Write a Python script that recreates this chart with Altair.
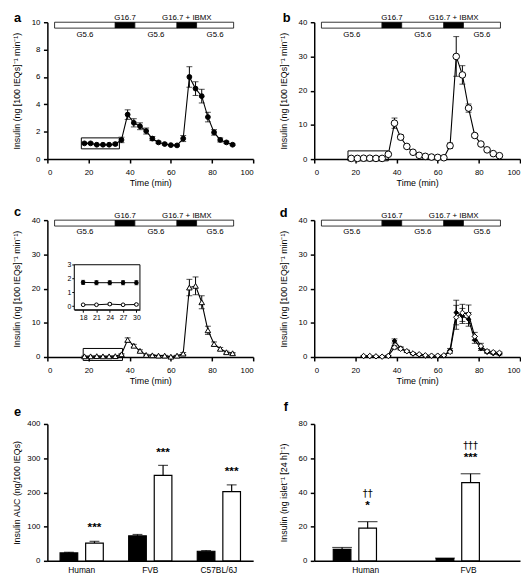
import altair as alt
import pandas as pd

FONT = "Liberation Sans"

# ---------------- time-course data (time in min) ----------------
time_abc = [18, 21, 24, 27, 30, 33, 36, 39, 42, 45, 48, 51, 54, 57, 60, 63, 66, 69, 72, 75, 78, 81, 84, 87, 90]
a_mean = [1.15, 1.15, 1.05, 1.05, 1.05, 1.10, 1.40, 3.25, 2.65, 2.40, 2.05, 1.50, 1.22, 1.10, 1.02, 1.00, 1.50, 6.00, 5.15, 4.60, 3.07, 1.95, 1.40, 1.22, 1.05]
a_sem = [0.05, 0.05, 0.04, 0.04, 0.04, 0.08, 0.20, 0.35, 0.30, 0.25, 0.22, 0.15, 0.08, 0.06, 0.05, 0.05, 0.22, 0.75, 0.50, 0.50, 0.35, 0.20, 0.15, 0.08, 0.06]
b_mean = [0.2, 0.2, 0.25, 0.25, 0.2, 0.2, 1.4, 10.5, 6.4, 3.7, 2.0, 1.1, 0.8, 0.6, 0.5, 0.4, 3.9, 30.0, 24.6, 14.9, 6.9, 4.4, 2.7, 1.6, 1.0]
b_sem = [0.1, 0.1, 0.1, 0.1, 0.1, 0.1, 0.3, 1.5, 0.7, 0.5, 0.3, 0.2, 0.15, 0.1, 0.1, 0.1, 0.8, 5.8, 2.7, 1.2, 0.5, 0.4, 0.3, 0.2, 0.2]
c_mean = [0.2, 0.2, 0.25, 0.2, 0.2, 0.25, 0.8, 5.0, 3.3, 1.8, 0.6, 0.5, 0.4, 0.4, 0.1, 0.4, 1.0, 20.3, 20.8, 16.0, 7.8, 3.8, 2.4, 1.4, 1.1]
c_sem = [0.1, 0.1, 0.1, 0.1, 0.1, 0.1, 0.2, 0.6, 0.4, 0.3, 0.2, 0.2, 0.1, 0.1, 0.1, 0.1, 0.3, 2.4, 2.6, 1.9, 1.2, 0.6, 0.4, 0.3, 0.2]
time_d = [24, 27, 30, 33, 36, 39, 42, 45, 48, 51, 54, 57, 60, 63, 66, 69, 72, 75, 78, 81, 84, 87, 90]
d_open_mean = [0.3, 0.3, 0.2, 0.1, 0.3, 2.8, 2.4, 1.7, 1.05, 0.8, 0.5, 0.4, 0.4, 0.5, 1.5, 11.6, 12.9, 12.5, 6.0, 3.2, 1.7, 1.4, 1.25]
d_open_sem = [0.1, 0.1, 0.1, 0.1, 0.1, 0.5, 0.4, 0.3, 0.2, 0.1, 0.1, 0.1, 0.1, 0.1, 0.4, 3.5, 2.5, 2.7, 1.2, 0.8, 0.4, 0.3, 0.2]
d_fill_mean = [0.2, 0.2, 0.15, 0.1, 0.4, 4.7, 2.6, 1.6, 0.9, 0.6, 0.4, 0.3, 0.3, 0.4, 2.0, 13.0, 12.0, 11.0, 5.0, 2.5, 1.4, 1.0, 0.8]
d_fill_sem = [0.1, 0.1, 0.1, 0.1, 0.1, 0.6, 0.4, 0.3, 0.2, 0.1, 0.1, 0.1, 0.1, 0.1, 0.5, 3.6, 2.2, 2.0, 1.0, 0.6, 0.3, 0.2, 0.2]

# inset of panel c (basal period, 18-30 min)
inset_time = [18, 21, 24, 27, 30]
inset_fill_mean = [1.72, 1.70, 1.70, 1.70, 1.70]
inset_fill_sem = [0.15, 0.15, 0.15, 0.15, 0.15]
inset_open_mean = [0.10, 0.10, 0.15, 0.10, 0.12]
inset_open_sem = [0.03, 0.03, 0.08, 0.03, 0.06]
inset_x_dom = [16.0, 30.8]
inset_y_dom = [-0.26, 3.0]

# perifusion protocol bar
cond_start = [3.5, 33.0, 42.5, 63.0, 72.5]
cond_end = [33.0, 42.5, 63.0, 72.5, 90.5]
cond_label = ["G5.6", "G16.7", "G5.6", "G16.7 + IBMX", "G5.6"]
cond_fill = ["white", "black", "white", "black", "white"]
cond_side = ["below", "above", "below", "above", "below"]

# highlighted basal boxes (panels a, b, c)
box_t0 = [16.5, 16.4, 17.4]
box_t1 = [35.0, 36.0, 36.5]
box_y0 = [0.75, -0.5, -1.0]
box_y1 = [1.55, 2.4, 2.5]

# ---------------- bar data ----------------
e_groups = ["Human", "FVB", "C57BL/6J"]
e_black = [23, 73, 28]
e_black_sem = [2, 4, 2]
e_white = [52, 250, 202]
e_white_sem = [5, 29, 20]
e_sig = ["***", "***", "***"]

f_groups = ["Human", "FVB"]
f_black = [6.7, 1.3]
f_black_sem = [1.1, 0.3]
f_white = [19.1, 45.7]
f_white_sem = [3.8, 5.2]
f_sig = ["*", "***"]
f_dag = ["\u2020\u2020", "\u2020\u2020\u2020"]

YT_TC = "Insulin (ng [100 IEQs]\u207b\u00b9 min\u207b\u00b9)"
W, H, H3 = 209, 139, 145


def make_X():
    def X(f):
        return alt.X(f"{f}:Q", scale=alt.Scale(domain=[0, 100], nice=False, zero=False),
                     axis=alt.Axis(values=[0, 20, 40, 60, 80, 100], title="Time (min)",
                                   labelPadding=6, titlePadding=2))
    return X


def make_Y(ymax, yvals):
    def Y(f):
        return alt.Y(f"{f}:Q", scale=alt.Scale(domain=[0, ymax], nice=False, zero=False),
                     axis=alt.Axis(values=yvals, title=YT_TC, labelPadding=3.5, titlePadding=10))
    return Y


def ts_df(t, m, s):
    return pd.DataFrame({"t": t, "m": m,
                         "lo": [a - b for a, b in zip(m, s)],
                         "hi": [a + b for a, b in zip(m, s)]})


def series(t, mean, sem, X, Y, shape, fill, size, cap=6, lw=1.1):
    base = alt.Chart(ts_df(t, mean, sem))
    line = base.mark_line(color="black", strokeWidth=lw).encode(x=X("t"), y=Y("m"))
    rule = base.mark_rule(color="black", strokeWidth=1).encode(x=X("t"), y=Y("lo"), y2="hi")
    cap_hi = base.mark_tick(orient="horizontal", color="black", size=cap, thickness=1).encode(x=X("t"), y=Y("hi"))
    cap_lo = base.mark_tick(orient="horizontal", color="black", size=cap, thickness=1).encode(x=X("t"), y=Y("lo"))
    pts = base.mark_point(shape=shape, size=size, filled=True, fill=fill, stroke="black",
                          strokeWidth=1, opacity=1).encode(x=X("t"), y=Y("m"))
    return [line, rule, cap_hi, cap_lo, pts]


cond_df = pd.DataFrame({"start": cond_start, "end": cond_end, "label": cond_label,
                        "fill": cond_fill, "side": cond_side})


def protocol(X):
    base = alt.Chart(cond_df)
    bar = base.mark_rect(stroke="black", strokeWidth=0.8).encode(
        x=X("start"), x2="end", y=alt.value(0), y2=alt.value(6),
        fill=alt.Fill("fill:N", scale=None))
    above = base.transform_filter("datum.side == 'above'").transform_calculate(
        mid="(datum.start + datum.end) / 2").mark_text(
        font=FONT, fontSize=8, baseline="alphabetic").encode(
        x=X("mid"), y=alt.value(-2), text="label:N")
    below = base.transform_filter("datum.side == 'below'").transform_calculate(
        mid="(datum.start + datum.end) / 2").mark_text(
        font=FONT, fontSize=8, baseline="alphabetic").encode(
        x=X("mid"), y=alt.value(14.5), text="label:N")
    return [bar, above, below]


def box(i, X, Y):
    df = pd.DataFrame({"t0": [box_t0[i]], "t1": [box_t1[i]], "y0": [box_y0[i]], "y1": [box_y1[i]]})
    return alt.Chart(df).mark_rect(fill="white", fillOpacity=0, stroke="black", strokeWidth=1).encode(
        x=X("t0"), x2="t1", y=Y("y0"), y2="y1")


def panel_label(txt, px, py):
    return alt.Chart(pd.DataFrame({"p": [txt]})).mark_text(
        font=FONT, fontSize=13, fontWeight="bold", align="left", baseline="alphabetic",
        color="black").encode(text="p:N", x=alt.value(px), y=alt.value(py))


# ---------------- panel a ----------------
Xa, Ya = make_X(), make_Y(10, [0, 2, 4, 6, 8, 10])
pa = alt.layer(*protocol(Xa), box(0, Xa, Ya),
               *series(time_abc, a_mean, a_sem, Xa, Ya, "circle", "black", 24),
               panel_label("a", -34, 0)).properties(width=W, height=H)

# ---------------- panel b ----------------
Xb, Yb = make_X(), make_Y(40, [0, 10, 20, 30, 40])
pb = alt.layer(*protocol(Xb), box(1, Xb, Yb),
               *series(time_abc, b_mean, b_sem, Xb, Yb, "circle", "white", 45),
               panel_label("b", -32, 0)).properties(width=W, height=H)

# ---------------- panel c (with inset) ----------------
Xc, Yc = make_X(), make_Y(40, [0, 10, 20, 30, 40])
main_c = alt.layer(*protocol(Xc), box(2, Xc, Yc),
                   *series(time_abc, c_mean, c_sem, Xc, Yc, "triangle-up", "white", 32),
                   panel_label("c", -34, -4))


def IX(f):
    return alt.X(f"{f}:Q", scale=alt.Scale(domain=inset_x_dom, range=[27.3, 94], nice=False, zero=False),
                 axis=alt.Axis(orient="bottom", offset=-48, values=inset_time, title=None,
                               tickSize=2.5, tickWidth=1, domainWidth=1, labelFontSize=7, labelPadding=1))


def IY(f):
    return alt.Y(f"{f}:Q", scale=alt.Scale(domain=inset_y_dom, range=[91, 45.3], nice=False, zero=False),
                 axis=alt.Axis(orient="left", offset=-27.3, values=[0, 1, 2, 3], title=None,
                               tickSize=2.5, tickWidth=1, domainWidth=1, labelFontSize=7, labelPadding=1))


inset_frame = alt.Chart(pd.DataFrame({"x0": [inset_x_dom[0]], "x1": [inset_x_dom[1]],
                                      "y0": [inset_y_dom[0]], "y1": [inset_y_dom[1]]})).mark_rect(
    fill="white", stroke="black", strokeWidth=1).encode(x=IX("x0"), x2="x1", y=IY("y0"), y2="y1")
inset = alt.layer(inset_frame,
                  *series(inset_time, inset_fill_mean, inset_fill_sem, IX, IY, "circle", "black", 14, cap=4, lw=1),
                  *series(inset_time, inset_open_mean, inset_open_sem, IX, IY, "circle", "white", 14, cap=4, lw=1))
pc = alt.layer(main_c, inset).resolve_scale(x="independent", y="independent").properties(width=W, height=H)

# ---------------- panel d ----------------
Xd, Yd = make_X(), make_Y(40, [0, 10, 20, 30, 40])
pd_ = alt.layer(*protocol(Xd),
                *series(time_d, d_fill_mean, d_fill_sem, Xd, Yd, "diamond", "black", 22),
                *series(time_d, d_open_mean, d_open_sem, Xd, Yd, "diamond", "white", 30),
                panel_label("d", -35, -3)).properties(width=W, height=H)


# ---------------- bar panels ----------------
def bar_panel(groups, black, black_sem, white, white_sem, ymax, yvals, ytitle, cap, title_pad, lab, lx, ly,
              sig, sig_dy, dag=None, dag_dy=0):
    rows = []
    for g, bv, bs, wv, ws in zip(groups, black, black_sem, white, white_sem):
        rows.append({"group": g, "cond": "black", "val": bv, "hi": bv + bs})
        rows.append({"group": g, "cond": "white", "val": wv, "hi": wv + ws})
    df = pd.DataFrame(rows)
    X = alt.X("group:N", sort=groups, scale=alt.Scale(paddingInner=0.37, paddingOuter=0.185),
              axis=alt.Axis(title=None, labelAngle=0, ticks=False, tickSize=0, labelPadding=5,
                            labelFontSize=8.5))
    XO = alt.XOffset("cond:N", sort=["black", "white"], scale=alt.Scale(paddingInner=0.31))

    def Y(f):
        return alt.Y(f"{f}:Q", scale=alt.Scale(domain=[0, ymax], range=[H3, 6], nice=False),
                     axis=alt.Axis(values=yvals, title=ytitle, labelPadding=3.5, titlePadding=title_pad))

    base = alt.Chart(df)
    bars = base.mark_bar(stroke="black", strokeWidth=1.2).encode(
        x=X, xOffset=XO, y=Y("val"),
        fill=alt.Fill("cond:N", scale=alt.Scale(domain=["black", "white"], range=["black", "white"]), legend=None))
    rule = base.mark_rule(color="black", strokeWidth=1.2).encode(x=X, xOffset=XO, y=Y("val"), y2="hi")
    capm = base.mark_tick(orient="horizontal", color="black", size=cap, thickness=1.2).encode(
        x=X, xOffset=XO, y=Y("hi"))
    layers = [bars, rule, capm]
    sdf = pd.DataFrame({"group": groups, "cond": ["white"] * len(groups),
                        "hi": [v + s for v, s in zip(white, white_sem)], "sig": sig})
    layers.append(alt.Chart(sdf).mark_text(font=FONT, fontSize=12, fontWeight="bold", baseline="alphabetic",
                                           dy=sig_dy, color="black").encode(
        x=X, xOffset=XO, y=Y("hi"), text="sig:N"))
    if dag is not None:
        ddf = sdf.assign(dag=dag)
        layers.append(alt.Chart(ddf).mark_text(font="DejaVu Sans", fontSize=10, baseline="alphabetic",
                                               dy=dag_dy, color="black").encode(
            x=X, xOffset=XO, y=Y("hi"), text="dag:N"))
    layers.append(panel_label(lab, lx, ly))
    return alt.layer(*layers).properties(width=W, height=H3)


pe = bar_panel(e_groups, e_black, e_black_sem, e_white, e_white_sem, 400, [0, 100, 200, 300, 400],
               "Insulin AUC (ng/100 IEQs)", 10, 5.5, "e", -34, -2.3, e_sig, -10)
pf = bar_panel(f_groups, f_black, f_black_sem, f_white, f_white_sem, 80, [0, 20, 40, 60, 80],
               "Insulin (ng islet\u207b\u00b9 [24 h]\u207b\u00b9)", 20, 10, "f", -31, -7, f_sig, -13,
               dag=f_dag, dag_dy=-25)

chart = alt.concat(pa, pb, pc, pd_, pe, pf, columns=2, spacing=62, bounds="flush").properties(
    padding={"left": 4, "right": 0, "top": 0, "bottom": 0}
).configure_view(stroke=None).configure_axis(
    grid=False, domainColor="black", domainWidth=1.5, tickColor="black", tickWidth=1.5, tickSize=4,
    labelFont=FONT, labelFontSize=8, labelColor="black", titleFont=FONT, titleFontSize=9,
    titleFontWeight="normal", titleColor="black")

chart.save("out.html", embed_options={"renderer": "svg", "actions": False})
